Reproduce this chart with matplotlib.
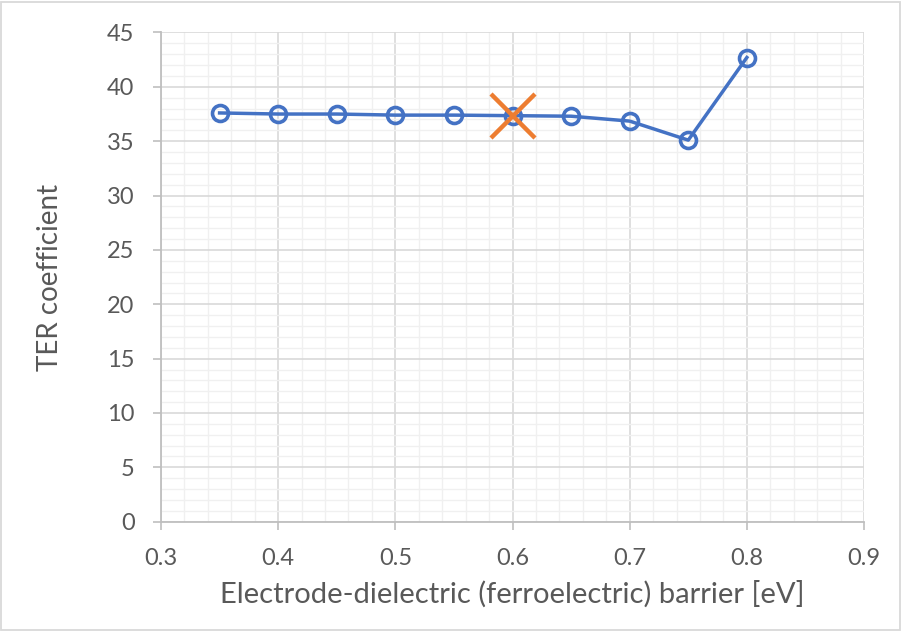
import matplotlib
matplotlib.use("Agg")
import matplotlib.pyplot as plt
from matplotlib.ticker import MultipleLocator, FuncFormatter
from matplotlib.patches import Rectangle

plt.rcParams['font.family'] = ['Lato', 'DejaVu Sans']

barrier = [0.35, 0.40, 0.45, 0.50, 0.55, 0.60, 0.65, 0.70, 0.75, 0.80]
ter = [37.6, 37.5, 37.5, 37.4, 37.4, 37.35, 37.3, 36.85, 35.1, 42.7]
highlight_x = [0.60]
highlight_y = [37.35]

xlabel = "Electrode-dielectric (ferroelectric) barrier [eV]"
ylabel = "TER coefficient"

fig = plt.figure(figsize=(9.02, 6.31), dpi=100)
ax = fig.add_axes([0.1785, 0.1732, 0.7794, 0.7753])

blue = '#4472C4'
orange = '#ED7D31'
text_c = '#595959'

ax.plot(barrier, ter, color=blue, lw=2.5, marker='o', ms=11.5, mfc='none',
        mec=blue, mew=2.6, zorder=3)
ax.plot(highlight_x, highlight_y, ls='none', marker='x', ms=31, mew=3.2,
        color=orange, zorder=4)

ax.set_xlim(0.3, 0.9)
ax.set_ylim(0, 45)
ax.xaxis.set_major_locator(MultipleLocator(0.1))
ax.xaxis.set_minor_locator(MultipleLocator(0.02))
ax.yaxis.set_major_locator(MultipleLocator(5))
ax.yaxis.set_minor_locator(MultipleLocator(1))
ax.xaxis.set_major_formatter(FuncFormatter(lambda v, p: f"{v:.1f}"))

ax.grid(which='major', color='#D9D9D9', lw=1.2, zorder=0)
ax.grid(which='minor', color='#F0F0F0', lw=1.0, zorder=0)
ax.set_axisbelow(True)

for s in ['top', 'right']:
    ax.spines[s].set_visible(False)
for s in ['left', 'bottom']:
    ax.spines[s].set_color('#BFBFBF')
    ax.spines[s].set_linewidth(1.3)

ax.tick_params(which='major', direction='out', length=6, width=1.2,
               color='#BFBFBF', labelcolor=text_c, labelsize=17)
ax.tick_params(axis='x', which='major', pad=13)
ax.tick_params(axis='y', which='major', pad=13)
ax.tick_params(which='minor', length=0)

ax.set_xlabel(xlabel, fontsize=21, color=text_c, labelpad=8)
ax.set_ylabel(ylabel, fontsize=20, color=text_c, labelpad=32)

fig.patches.append(Rectangle((0.001, 0.0015), 0.997, 0.996, transform=fig.transFigure,
                             fill=False, edgecolor='#D9D9D9', lw=1.3))

fig.savefig('out.png', dpi=100)
